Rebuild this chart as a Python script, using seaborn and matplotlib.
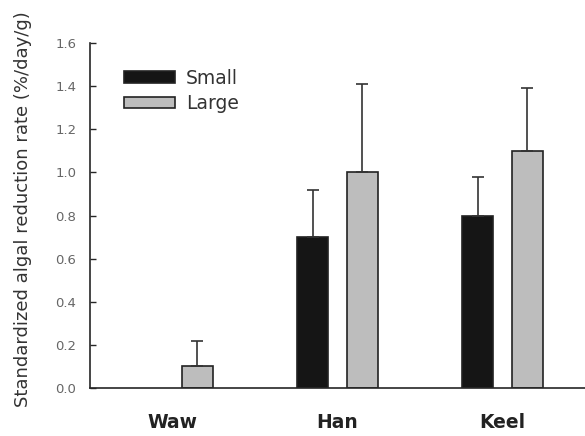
import numpy as np
import pandas as pd
import matplotlib
matplotlib.use("Agg")
import matplotlib.pyplot as plt
import seaborn as sns

sites = ["Waw", "Han", "Keel"]
small_mean = [np.nan, 0.70, 0.80]
small_err = [np.nan, 0.22, 0.18]
large_mean = [0.10, 1.00, 1.10]
large_err = [0.12, 0.41, 0.29]

df = pd.DataFrame({
    "site": sites * 2,
    "size": ["Small"] * 3 + ["Large"] * 3,
    "rate": small_mean + large_mean,
    "err": small_err + large_err,
})

sns.set_style("ticks")
plt.rcParams["font.family"] = ["DejaVu Sans"]

fig = plt.figure(figsize=(5.85, 4.36), dpi=100)
ax = fig.add_axes([0.154, 0.110, 0.846, 0.791])

sns.barplot(data=df, x="site", y="rate", hue="size", order=sites,
            hue_order=["Small", "Large"], palette=["#151515", "#bdbdbd"],
            width=0.6, gap=0.38, errorbar=None, edgecolor="#222222",
            linewidth=1.2, ax=ax)

# one-sided error bars; match each bar to its site by x position
for cont, size in zip(ax.containers, ["Small", "Large"]):
    sub = df[df["size"] == size].set_index("site")
    for bar in cont:
        xc = bar.get_x() + bar.get_width() / 2
        site = sites[int(round(xc))]
        m, e = sub.loc[site, "rate"], sub.loc[site, "err"]
        if np.isnan(m):
            continue
        ax.errorbar(xc, m, yerr=[[0], [e]], fmt="none", ecolor="#333333",
                    elinewidth=1.2, capsize=4, capthick=1.2)

ax.set_xlim(-0.5, 2.5)
ax.set_ylim(0, 1.6)
yt = np.arange(0, 1.61, 0.2)
ax.set_yticks(yt)
ax.set_yticklabels([f"{v:.1f}" for v in yt], fontsize=9.5, color="#666666")
ax.tick_params(axis="y", direction="in", length=4, width=1, pad=10)
ax.tick_params(axis="x", length=0, pad=18)
for lbl in ax.get_xticklabels():
    lbl.set_fontweight("bold")
    lbl.set_fontsize(13.5)
    lbl.set_color("#222222")

ax.set_xlabel("")
ax.set_ylabel("Standardized algal reduction rate (%/day/g)", fontsize=13,
              color="#333333")
ax.yaxis.set_label_coords(-0.118, 0.52)

for s in ["top", "right"]:
    ax.spines[s].set_visible(False)
ax.spines["left"].set_linewidth(1.2)
ax.spines["bottom"].set_linewidth(1.2)

ax.legend(title=None, loc="upper left", bbox_to_anchor=(0.035, 0.975),
          frameon=False, fontsize=13.5, handlelength=2.7, handleheight=0.55,
          labelspacing=0.35, handletextpad=0.6, labelcolor="#333333")

fig.savefig("out.png", dpi=100)
